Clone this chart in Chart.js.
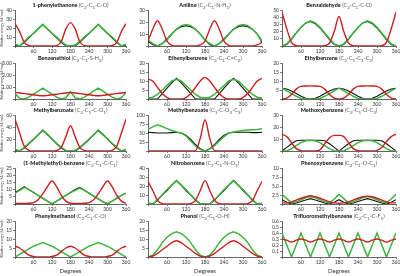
<!DOCTYPE html>
<html>
<head>
<meta charset="utf-8">
<script src="https://cdn.jsdelivr.net/npm/chart.js@4.4.0/dist/chart.umd.min.js"></script>
<style>
  body { margin: 0; background: #fff; width: 400px; height: 276px; position: relative; overflow: hidden; font-family: Lato, sans-serif; }
  canvas { position: absolute; }
  .ttl { position: absolute; font-size: 5.5px; line-height: 6px; color: #222; white-space: nowrap; transform: translateX(-50%); }
  .ttl b { font-weight: 900; }
  .ttl span { color: #555; }
  .deg { position: absolute; top: 267px; font-size: 6px; color: #333; transform: translateX(-50%); }
</style>
</head>
<body>
<script>
// torsion angle grid (degrees)
const angles = [0,15,30,45,60,75,90,105,120,135,150,165,180,195,210,225,240,255,270,285,300,315,330,345,360];

const names = ['1-phenylethanone','Aniline','Benzaldehyde','Benzenethiol','Ethenylbenzene','Ethylbenzene',
  'Methylbenzoate','Methylbenzoate','Methoxybenzene','(1-Methylethyl)-benzene','Nitrobenzene','Phenoxybenzene',
  'Phenylmethanol','Phenol','Trifluoromethylbenzene'];
const dihedrals = ['(C<sub>2</sub>-C<sub>1</sub>-C-O)','(C<sub>2</sub>-C<sub>1</sub>-N-H<sub>1</sub>)','(C<sub>2</sub>-C<sub>1</sub>-C-O)',
  '(C<sub>2</sub>-C<sub>1</sub>-S-H<sub>S</sub>)','(C<sub>2</sub>-C<sub>1</sub>-C=C<sub>2</sub>)','(C<sub>2</sub>-C<sub>1</sub>-C<sub>1</sub>-C<sub>2</sub>)',
  '(C<sub>2</sub>-C<sub>1</sub>-C-O<sub>1</sub>)','(C<sub>1</sub>-C-O<sub>2</sub>-C<sub>3</sub>)','(C<sub>2</sub>-C<sub>1</sub>-O-C<sub>3</sub>)',
  '(C<sub>2</sub>-C<sub>1</sub>-C-C<sub>1</sub>)','(C<sub>2</sub>-C<sub>1</sub>-N-O<sub>1</sub>)','(C<sub>2</sub>-C<sub>1</sub>-O-C<sub>1</sub>)',
  '(C<sub>2</sub>-C<sub>1</sub>-C-O)','(C<sub>2</sub>-C<sub>1</sub>-O-H)','(C<sub>2</sub>-C<sub>1</sub>-C-F<sub>1</sub>)'];
const yMax  = [40,30,50,3,20,20,60,100,30,25,40,10,20,20,0.6];
const yStep = [10,10,10,1,5,5,20,25,10,5,10,2.5,5,5,0.1];

// relative energies (kJ/mol), red / green / black
const red1   = [25,16,4,0.5,0,0,0,0,0,0.5,5,19,26,19,5,0.5,0,0,0,0,0,0.5,4,16,25];
const green1 = [2,0,5,10,14,19,24,19,14,10,5,1,0,1,5,10,14,19,24,19,14,10,5,0,2];
const black1 = [1,0,4,9,14,19,24,19,14,9,4,0,0,0,4,9,14,19,24,19,14,9,4,0,1];

const red2   = [4,14,21,14,4,0.5,0,0,0,0,0,1,4,14,21,14,4,0.5,0,0,0,0,0,1,3];
const green2 = [5,2,0,2,5,10,14,17,18,17,14,10,5,2,0,2,5,10,14,17,18,17,14,10,4];
const black2 = [4,1,0,2,6,10,14,16,17,16,14,10,5,1,0,2,6,10,14,16,17,16,14,10,3];

const red3   = [47,24,5,0.5,0,0,0,0,0,0.5,4,20,41,20,4,0.5,0,0,0,0,0,0.5,5,24,47];
const green3 = [0,3,10,18,26,32,35,32,26,18,10,3,0,3,10,18,26,32,35,32,26,18,10,3,0];
const black3 = [0,2,9,18,26,32,34,31,25,17,9,2,0,2,9,18,26,32,34,31,25,17,9,2,0];

const red4   = [0.55,0.5,0.45,0.4,0.35,0.3,0.27,0.3,0.35,0.4,0.45,0.5,0.55,0.5,0.45,0.4,0.35,0.3,0.27,0.3,0.35,0.4,0.45,0.5,0.55];
const green4 = [0.45,0.05,0,0.15,0.4,0.65,0.9,0.65,0.4,0.15,0,0.1,0.6,0.1,0,0.15,0.4,0.65,0.9,0.65,0.4,0.15,0,0.1,0.55];
const black4 = [];

const red5   = [11,10,6.5,3,0.8,0,0,0,0.8,3,6.5,10,12,10,6.5,3,0.8,0,0,0,0.8,3,6.5,10,11.5];
const green5 = [0.5,1,2.5,5,7.5,10,11,10,7.5,5,2.5,1,0.5,1,2.5,5,7.5,10,11,10,7.5,5,2.5,1,0.5];
const black5 = [0,0,0,3,6,9,11.5,9,6,3,0,0,0,0,0,3,6,9,11.5,9,6,3,0,0,0];

const red6   = [0,0.5,2.5,5.5,7,7.2,7.3,7.2,7,5.5,2.5,0.5,0,0.5,2.5,5.5,7,7.2,7.3,7.2,7,5.5,2.5,0.5,0];
const green6 = [6,4.5,3,1.5,0.3,0,0,0,0.3,1.5,3,4.5,6,4.5,3,1.5,0.3,0,0,0,0.3,1.5,3,4.5,6];
const black6 = [6,5.6,4.5,3,1.5,0.4,0,0.4,1.5,3,4.5,5.6,6,5.6,4.5,3,1.5,0.4,0,0.4,1.5,3,4.5,5.6,6];

const red7   = [53,30,8,1,0,0,0,0,0,1,6,24,42,24,6,1,0,0,0,0,0,1,8,30,53];
const green7 = [3,0,6,13,20,27,34,27,20,13,6,1,0,1,6,13,20,27,34,27,20,13,6,0,3];
const black7 = [2,0,5,12,19,27,35,28,20,12,5,0,0,0,5,12,19,27,35,28,20,12,5,0,2];

const red8   = [0,0,0,0,0,0,0,0,0,0,1,35,87,35,1,0,0,0,0,0,0,0,0,0,0];
const green8 = [60,67,73,68,62,57,53,50,42,28,14,4,0,5,15,28,40,50,53,55,57,58,59,60,62];
const black8 = [52,51,50,50,50,51,52,50,44,32,18,6,0,6,18,32,44,50,52,52,52,52,51,51,52];

const red9   = [14,12,7,2,0.3,0,0,0,1,6,11,13,13,12,7,2,0.3,0,0,0,0.5,3,8,12,14];
const green9 = [0,0,2,4.5,7,8.5,9,8.5,7,4.5,2,0,0,0,2,4.5,7,8.5,9,8.5,7,4.5,2,0,0];
const black9 = [0,3,6,8.5,9,9,9,9,9,8.5,6,3,0,3,6,8.5,9,9,9,9,9,8.5,6,3,0];

const red10   = [0.5,0.3,0.3,0.5,1,3,7,12,16,12,6,2,0.5,0.3,0.3,0.5,1,3,7,12,16,12,6,2,0.5];
const green10 = [7.5,9.5,11.5,10,8,6,4,2,0.3,2,4,6,8,9.5,11,9.5,7.5,5.5,3.5,1.5,0.3,2,4,6,7.5];
const black10 = [8,10,12,10,8,6,4,2,0,2,4,6,8,10,11.5,9.5,7.5,5.5,3.5,1.5,0,2,4,6,7.5];

const red11   = [25,15,4,0.5,0,0,0,0,0,0.5,4,15,26,15,4,0.5,0,0,0,0,0,0.5,4,15,25];
const green11 = [1,0,5,10,16,21,26,21,16,10,5,0,0,0,5,10,16,21,26,21,16,10,5,0,1];
const black11 = [0,0,4,10,15,21,26,21,15,10,4,0,0,0,4,10,15,21,26,21,15,10,4,0,0];

const red12   = [0.3,0.3,0.6,1.1,1.6,2,2.3,2,1.6,1.1,0.6,0.3,0.2,0.3,0.6,1.1,1.6,2,2.2,2,1.6,1.1,0.6,0.3,0.3];
const green12 = [2.7,1.5,0.3,0.6,1.2,1.7,2.1,1.7,1.2,0.6,0.3,1.4,2.7,1.5,0.3,0.6,1.2,1.7,2.1,1.7,1.2,0.6,0.3,1.4,2.7];
const black12 = [1.2,0.5,0,0.3,0.7,1.1,1.5,1.1,0.7,0.3,0,0.5,1.2,0.5,0,0.3,0.7,1.1,1.5,1.1,0.7,0.3,0,0.5,1.2];

const red13   = [6,5,3,1,0.3,0,0,0,0.3,1,3,5,6,5,3,1,0.3,0,0,0,0.3,1,3,5,6];
const green13 = [0,1.5,3,4.5,6,7,8,7,6,4.5,3,1.5,0,1.5,3,4.5,6,7,8,7,6,4.5,3,1.5,0];
const black13 = [];

const red14   = [0,0.5,2,4,6,8,9,8,6,4,2,0.5,0,0.5,2,4,6,8,9,8,6,4,2,0.5,0];
const green14 = [0,1,4,8,11,13,14,13,11,8,4,1,0,1,4,8,11,13,14,13,11,8,4,1,0];
const black14 = [];

const red15   = [0.3,0.28,0.25,0.28,0.3,0.28,0.25,0.28,0.3,0.28,0.25,0.28,0.3,0.28,0.25,0.28,0.3,0.28,0.25,0.28,0.3,0.28,0.25,0.28,0.3];
const green15 = [0.4,0.2,0,0.2,0.4,0.2,0,0.2,0.4,0.2,0,0.2,0.4,0.2,0,0.2,0.4,0.2,0,0.2,0.4,0.2,0,0.2,0.4];
const black15 = [];

const reds   = [red1,red2,red3,red4,red5,red6,red7,red8,red9,red10,red11,red12,red13,red14,red15];
const greens = [green1,green2,green3,green4,green5,green6,green7,green8,green9,green10,green11,green12,green13,green14,green15];
const blacks = [black1,black2,black3,black4,black5,black6,black7,black8,black9,black10,black11,black12,black13,black14,black15];

const plotLeft  = [15, 148, 282];
const plotRight = [126, 262, 396];
const plotH = 36;

function pts(arr) {
  return arr.map((v, i) => ({ x: angles[i], y: v }));
}

function fmtY(v, i) {
  if (v === 0) return '';
  if (i === 3) return v.toFixed(2);
  if (i === 11) return v === 10 ? '10' : v.toFixed(1);
  if (i === 14) return v.toFixed(1);
  return String(v);
}

for (let i = 0; i < 15; i++) {
  const col = i % 3, row = Math.floor(i / 3);
  const base = Math.round(46 + 52.7 * row);
  const axisW = col === 0 ? 15 : 18;
  const padTop = 4, xAxisH = 8, padRight = 6;
  const w = plotRight[col] - plotLeft[col] + axisW + padRight;
  const h = padTop + plotH + xAxisH;

  const cv = document.createElement('canvas');
  cv.width = w; cv.height = h;
  cv.style.left = (plotLeft[col] - axisW) + 'px';
  cv.style.top = (base - plotH - padTop) + 'px';
  cv.style.width = w + 'px'; cv.style.height = h + 'px';
  document.body.appendChild(cv);

  const t = document.createElement('div');
  t.className = 'ttl';
  t.style.left = ((plotLeft[col] + plotRight[col]) / 2) + 'px';
  t.style.top = (base - plotH - 8) + 'px';
  t.innerHTML = '<b>' + names[i] + '</b> <span>' + dihedrals[i] + '</span>';
  document.body.appendChild(t);

  const datasets = [
    { data: pts(reds[i]), borderColor: '#cc2020', borderWidth: 1.4, cubicInterpolationMode: 'monotone' },
    { data: pts(greens[i]), borderColor: '#3cb43c', borderWidth: 1.5, tension: 0 }
  ];
  if (blacks[i].length) {
    datasets.push({ data: pts(blacks[i]), borderColor: '#111', borderWidth: 1.1, tension: 0 });
  }

  new Chart(cv, {
    type: 'line',
    data: { datasets: datasets },
    options: {
      responsive: false,
      animation: false,
      events: [],
      layout: { padding: { top: padTop, right: padRight, left: 0, bottom: 0 } },
      elements: { point: { radius: 0 } },
      plugins: { legend: { display: false }, tooltip: { enabled: false } },
      scales: {
        x: {
          type: 'linear', min: 0, max: 360,
          afterFit: s => { s.height = xAxisH; },
          ticks: { stepSize: 60, padding: 0, color: '#333', font: { family: 'Lato', size: 5 },
                   callback: v => v === 0 ? '' : v, maxRotation: 0, autoSkip: false },
          grid: { drawOnChartArea: false, tickLength: 2, color: '#222', lineWidth: 0.6 },
          border: { color: '#222', width: 0.7 }
        },
        y: {
          min: 0, max: yMax[i],
          afterFit: s => { s.width = axisW; },
          ticks: { stepSize: yStep[i], padding: 1, color: '#333', font: { family: 'Lato', size: 5 },
                   autoSkip: false, callback: v => fmtY(v, i) },
          grid: { drawOnChartArea: false, tickLength: 2, color: '#222', lineWidth: 0.6 },
          border: { color: '#222', width: 0.7 },
          title: { display: col === 0, text: 'Relative energy (kJ/mol)', color: '#444',
                   font: { family: 'Lato', size: 3.5 }, padding: 0 }
        }
      }
    }
  });
}

for (let c = 0; c < 3; c++) {
  const d = document.createElement('div');
  d.className = 'deg';
  d.style.left = ((plotLeft[c] + plotRight[c]) / 2) + 'px';
  d.textContent = 'Degrees';
  document.body.appendChild(d);
}
</script>
</body>
</html>
